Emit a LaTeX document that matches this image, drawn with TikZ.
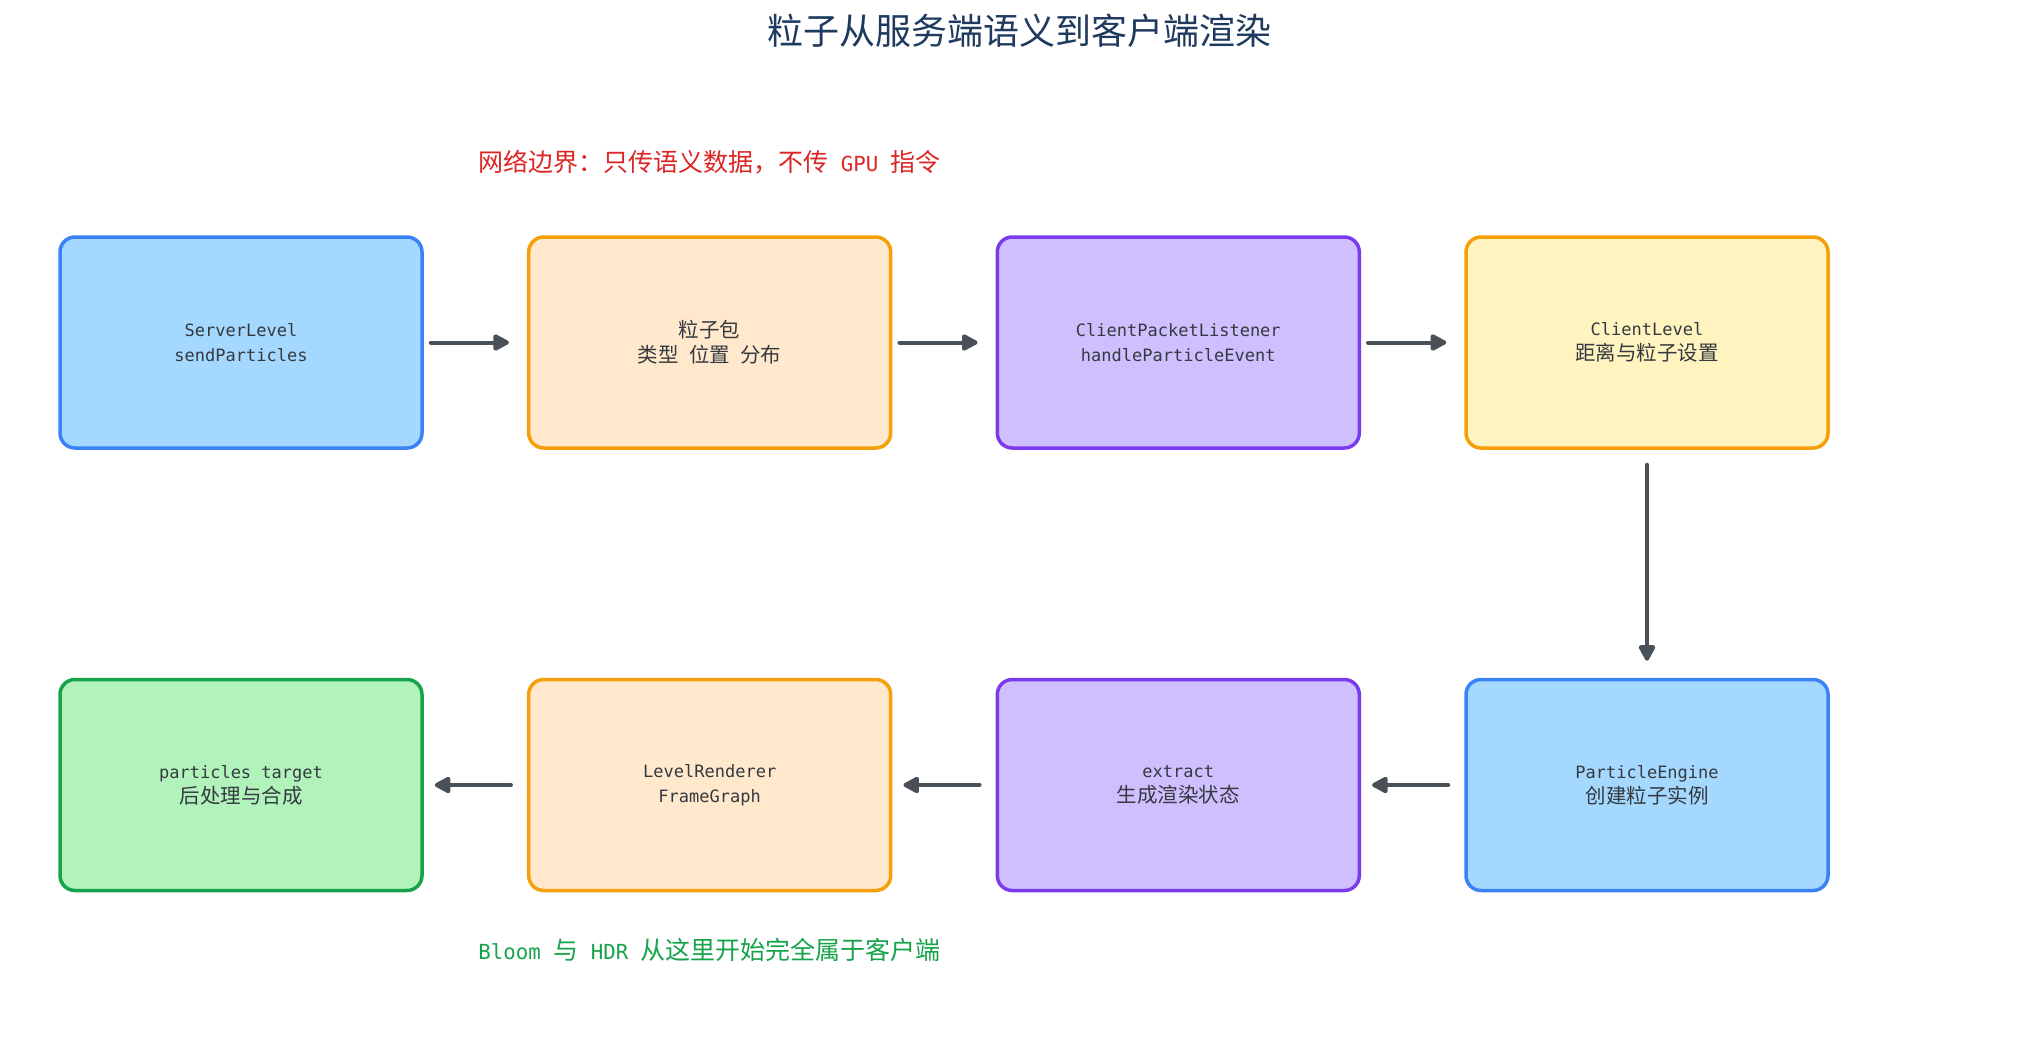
\documentclass[tikz,border=0pt]{standalone}
\usepackage{fontspec}
\setmainfont{Noto Sans CJK SC}
\newfontfamily\mono{DejaVu Sans Mono}[Scale=0.83]
\usetikzlibrary{arrows.meta}
\definecolor{titlecol}{RGB}{30,58,95}
\definecolor{redcol}{RGB}{220,38,38}
\definecolor{greencol}{RGB}{22,163,74}
\definecolor{txtcol}{RGB}{52,58,64}
\definecolor{arrcol}{RGB}{73,80,87}
\definecolor{bluefill}{RGB}{165,216,255}
\definecolor{blueline}{RGB}{59,130,246}
\definecolor{orangefill}{RGB}{255,232,204}
\definecolor{orangeline}{RGB}{245,159,11}
\definecolor{purplefill}{RGB}{208,191,255}
\definecolor{purpleline}{RGB}{124,58,237}
\definecolor{yellowfill}{RGB}{255,243,191}
\definecolor{greenfill}{RGB}{178,242,187}
\definecolor{greenline}{RGB}{22,163,74}
\begin{document}
\begin{tikzpicture}[x=1pt,y=-1pt,
  box/.style={draw, rectangle, rounded corners=15pt, line width=3.5pt,
    minimum width=362pt, minimum height=211pt, align=center,
    text=txtcol, font=\fontsize{20.5}{25}\selectfont, inner sep=0pt},
  bluebox/.style={box, fill=bluefill, draw=blueline},
  orangebox/.style={box, fill=orangefill, draw=orangeline},
  purplebox/.style={box, fill=purplefill, draw=purpleline},
  yellowbox/.style={box, fill=yellowfill, draw=orangeline},
  greenbox/.style={box, fill=greenfill, draw=greenline},
  arr/.style={draw=arrcol, line width=4pt, line cap=round,
    -{Triangle[length=18pt,width=18pt,round]}, fill=arrcol},
  fwd/.style={arr, shorten <=7pt, shorten >=18pt},
  bwd/.style={arr, shorten <=16pt, shorten >=11pt},
  down/.style={arr, shorten <=15pt, shorten >=17pt}
]
\useasboundingbox (0,0) rectangle (2038,1062);
\fill[white] (0,0) rectangle (2038,1062);

\node[text=titlecol, font=\fontsize{36}{40}\selectfont] (title) at (1019,31) {粒子从服务端语义到客户端渲染};
\node[text=redcol, font=\fontsize{25}{28}\selectfont] (netnote) at (709.7,162) {网络边界：只传语义数据，不传{\mono\ GPU\ }指令};
\node[text=greencol, font=\fontsize{25}{28}\selectfont] (bloomnote) at (709.7,950) {{\mono Bloom\ }与{\mono\ HDR\ }从这里开始完全属于客户端};

\node[bluebox] (b1) at (241,342.5) {{\mono ServerLevel}\\{\mono sendParticles}};
\node[orangebox] (b2) at (709.7,342.5) {粒子包\\类型{\mono\ }位置{\mono\ }分布};
\node[purplebox] (b3) at (1178.3,342.5) {{\mono ClientPacketListener}\\{\mono handleParticleEvent}};
\node[yellowbox] (b4) at (1647,342.5) {{\mono ClientLevel}\\距离与粒子设置};

\node[bluebox] (b5) at (1647,785) {{\mono ParticleEngine}\\创建粒子实例};
\node[purplebox] (b6) at (1178.3,785) {{\mono extract}\\生成渲染状态};
\node[orangebox] (b7) at (709.7,785) {{\mono LevelRenderer}\\{\mono FrameGraph}};
\node[greenbox] (b8) at (241,785) {{\mono particles\ target}\\后处理与合成};

\draw[fwd] (b1.east) -- (b2.west);
\draw[fwd] (b2.east) -- (b3.west);
\draw[fwd] (b3.east) -- (b4.west);
\draw[down] (b4.south) -- (b5.north);
\draw[bwd] (b5.west) -- (b6.east);
\draw[bwd] (b6.west) -- (b7.east);
\draw[bwd] (b7.west) -- (b8.east);
\end{tikzpicture}
\end{document}
